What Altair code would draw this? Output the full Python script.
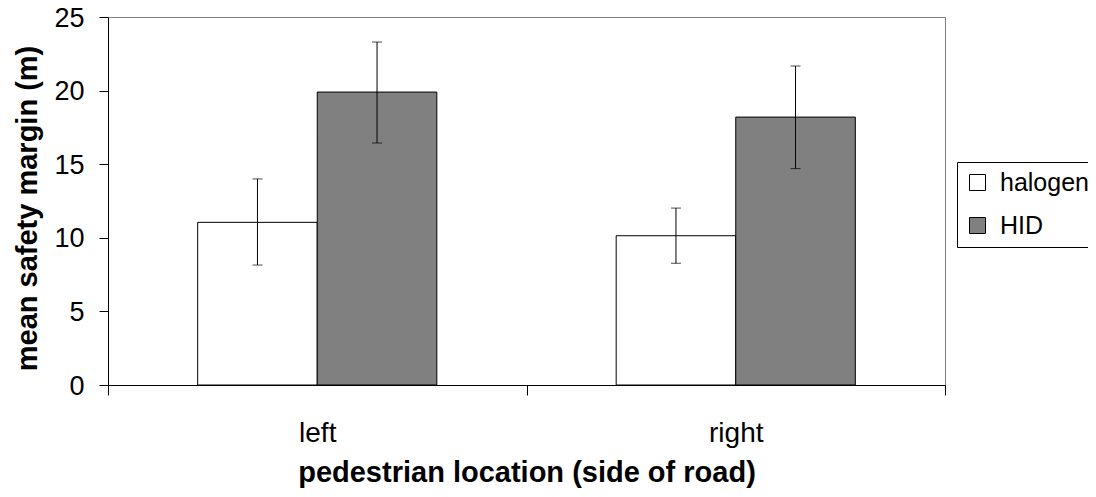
import altair as alt
import pandas as pd

locations = ["left", "right"]
lamps = ["halogen", "HID"]
halogen_mean = [11.05, 10.14]
hid_mean = [19.9, 18.2]
halogen_low = [8.15, 8.27]
halogen_high = [14.0, 12.02]
hid_low = [16.44, 14.7]
hid_high = [23.3, 21.67]
y_ticks = [0, 5, 10, 15, 20, 25]

rows = []
for i, loc in enumerate(locations):
    rows.append(dict(location=loc, lamp="halogen", mean=halogen_mean[i],
                     low=halogen_low[i], high=halogen_high[i]))
    rows.append(dict(location=loc, lamp="HID", mean=hid_mean[i],
                     low=hid_low[i], high=hid_high[i]))
df = pd.DataFrame(rows)

FONT = "Liberation Sans"

x_axis = alt.Axis(title="pedestrian location (side of road)", labelAngle=0,
                  tickBand="extent", tickSize=10, labelFontSize=28,
                  labelPadding=46, labelBaseline="alphabetic",
                  titleFontSize=29, titleFontWeight="bold", titleY=96,
                  titleBaseline="alphabetic", domainColor="black",
                  tickColor="black", labelColor="black", titleColor="black",
                  labelFont=FONT, titleFont=FONT)
y_axis = alt.Axis(title="mean safety margin (m)", values=y_ticks, grid=False,
                  tickSize=9, labelPadding=15, labelFontSize=27, labelOffset=1,
                  titleFontSize=29, titleFontWeight="bold", titleX=-81,
                  titleY=191, titleAngle=-90, titleBaseline="middle",
                  domainColor="black", tickColor="black", labelColor="black",
                  titleColor="black", labelFont=FONT, titleFont=FONT)

x = alt.X("location:N", scale=alt.Scale(domain=locations, paddingInner=0, paddingOuter=0),
          axis=x_axis)
xo = alt.XOffset("lamp:N", scale=alt.Scale(domain=lamps, paddingInner=0, paddingOuter=0.75))
y_scale = alt.Scale(domain=[0, 25], nice=False)

bars = alt.Chart(df).mark_bar(stroke="black", strokeWidth=1).encode(
    x=x, xOffset=xo,
    y=alt.Y("mean:Q", scale=y_scale, axis=y_axis),
    color=alt.Color("lamp:N", scale=alt.Scale(domain=lamps, range=["white", "#808080"]),
                    legend=alt.Legend(title=None, orient="none", legendX=849, legendY=145,
                                      strokeColor="black", padding=8, symbolType="square",
                                      symbolSize=256, symbolStrokeColor="black",
                                      symbolStrokeWidth=1, labelFontSize=25, labelFont=FONT,
                                      labelOffset=10, rowPadding=17, labelColor="black",
                                      fillColor="white")),
)

rules = alt.Chart(df).mark_rule(color="black", strokeWidth=1).encode(
    x=x, xOffset=xo,
    y=alt.Y("low:Q", scale=y_scale, axis=y_axis),
    y2="high:Q",
)

caps_low = alt.Chart(df).mark_tick(color="black", size=10, thickness=1, orient="horizontal").encode(
    x=x, xOffset=xo, y=alt.Y("low:Q", scale=y_scale, axis=y_axis))
caps_high = alt.Chart(df).mark_tick(color="black", size=10, thickness=1, orient="horizontal").encode(
    x=x, xOffset=xo, y=alt.Y("high:Q", scale=y_scale, axis=y_axis))

chart = alt.layer(bars, rules, caps_low, caps_high).properties(
    width=837, height=368,
    autosize=alt.AutoSizeParams(type="none"),
    padding={"left": 100, "top": 9, "right": 143, "bottom": 104},
    background="white",
).configure_view(stroke="#808080", strokeWidth=1)

chart.save("out.html", embed_options={"renderer": "svg", "actions": False})
